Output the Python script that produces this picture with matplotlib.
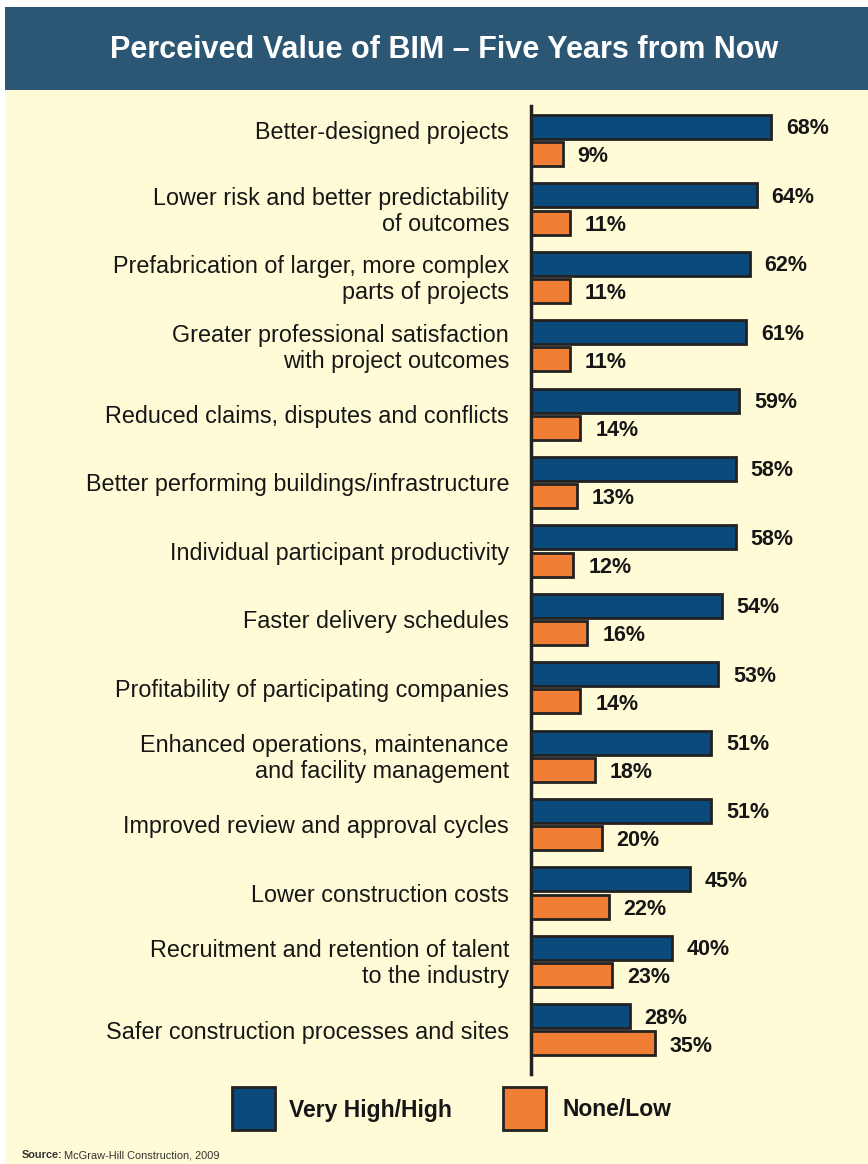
import matplotlib
matplotlib.use("Agg")
import matplotlib.pyplot as plt
from matplotlib.patches import Rectangle
from matplotlib import font_manager
import numpy as np

categories = [
    "Better-designed projects",
    "Lower risk and better predictability\nof outcomes",
    "Prefabrication of larger, more complex\nparts of projects",
    "Greater professional satisfaction\nwith project outcomes",
    "Reduced claims, disputes and conflicts",
    "Better performing buildings/infrastructure",
    "Individual participant productivity",
    "Faster delivery schedules",
    "Profitability of participating companies",
    "Enhanced operations, maintenance\nand facility management",
    "Improved review and approval cycles",
    "Lower construction costs",
    "Recruitment and retention of talent\nto the industry",
    "Safer construction processes and sites",
]
very_high_high = [68, 64, 62, 61, 59, 58, 58, 54, 53, 51, 51, 45, 40, 28]
none_low = [9, 11, 11, 11, 14, 13, 12, 16, 14, 18, 20, 22, 23, 35]
series_names = ["Very High/High", "None/Low"]
title = "Perceived Value of BIM \u2013 Five Years from Now"

W, H = 868, 1164
BG = "#FFFBD7"
BLUE = "#0B4B7B"
ORANGE = "#F07F35"
EDGE = "#222222"
TITLE_BG = "#2B5674"
TEXT = "#161616"
FONT = "Liberation Sans"
names = {f.name for f in font_manager.fontManager.ttflist}
NARROW = "Liberation Sans Narrow" if "Liberation Sans Narrow" in names else FONT

fig = plt.figure(figsize=(W / 100, H / 100), dpi=100)
fig.patch.set_facecolor("white")


def fx(px):
    return px / W


def fy(py):
    return 1 - py / H


fig.patches.append(Rectangle((fx(5), 0), 1 - fx(5), fy(90), transform=fig.transFigure,
                             facecolor=BG, edgecolor="none", zorder=-2))
fig.patches.append(Rectangle((fx(5), fy(90)), 1 - fx(5), fy(7) - fy(90), transform=fig.transFigure,
                             facecolor=TITLE_BG, edgecolor="none", zorder=-1))
fig.text(fx(444), fy(50), title, color="white", fontsize=22, fontweight="bold",
         family=FONT, ha="center", va="center")

# chart axes
px_per_unit = 3.53
row_px = 68.4
ax_left, ax_right = 531, 868
ax_top, ax_bot = 106, 1074
ax = fig.add_axes([fx(ax_left), fy(ax_bot), fx(ax_right) - fx(ax_left), fy(ax_top) - fy(ax_bot)])
ax.set_facecolor("none")
ax.set_xlim(0, (ax_right - ax_left) / px_per_unit)
first_center = 140.5
ax.set_ylim((ax_bot - first_center) / row_px, (ax_top - first_center) / row_px)

y = np.arange(len(categories))
off = 13.6 / row_px
h = 24 / row_px
ax.barh(y - off, very_high_high, height=h, color=BLUE, edgecolor=EDGE, linewidth=2, zorder=2)
ax.barh(y + off, none_low, height=h, color=ORANGE, edgecolor=EDGE, linewidth=2, zorder=2)

for i, (a, b) in enumerate(zip(very_high_high, none_low)):
    ax.text(a + 4.2, i - off + 0.03, f"{a}%", fontsize=15.5, fontweight="bold", family=FONT,
            color=TEXT, ha="left", va="center")
    ax.text(b + 4.2, i + off + 0.04, f"{b}%", fontsize=15.5, fontweight="bold", family=FONT,
            color=TEXT, ha="left", va="center")

label_x = (509 - ax_left) / px_per_unit
for i, lab in enumerate(categories):
    yy = (i - 0.15 if i == 0 else i) + 0.035
    ax.text(label_x, yy, lab, fontsize=16.8, family=FONT, color=TEXT, ha="right",
            va="center", linespacing=1.16, clip_on=False)

for s in ["top", "right", "bottom"]:
    ax.spines[s].set_visible(False)
ax.spines["left"].set_linewidth(2.5)
ax.spines["left"].set_color(EDGE)
ax.set_xticks([])
ax.set_yticks([])

# legend
for (x0, col, name, tx) in [(232, BLUE, series_names[0], 289), (503, ORANGE, series_names[1], 562)]:
    fig.patches.append(Rectangle((fx(x0), fy(1130)), fx(43), 43 / H, transform=fig.transFigure,
                                 facecolor=col, edgecolor=EDGE, linewidth=2, zorder=3))
    fig.text(fx(tx), fy(1110), name, fontsize=16.5, fontweight="bold", family=FONT,
             color=TEXT, ha="left", va="center")

fig.text(fx(22), fy(1155), "Source:", fontsize=7.9, fontweight="bold", family=NARROW,
         color="#333333", ha="left", va="center")
fig.text(fx(64), fy(1155), "McGraw-Hill Construction, 2009", fontsize=7.9, family=NARROW,
         color="#333333", ha="left", va="center")

fig.savefig("out.png", dpi=100, facecolor=fig.get_facecolor())
